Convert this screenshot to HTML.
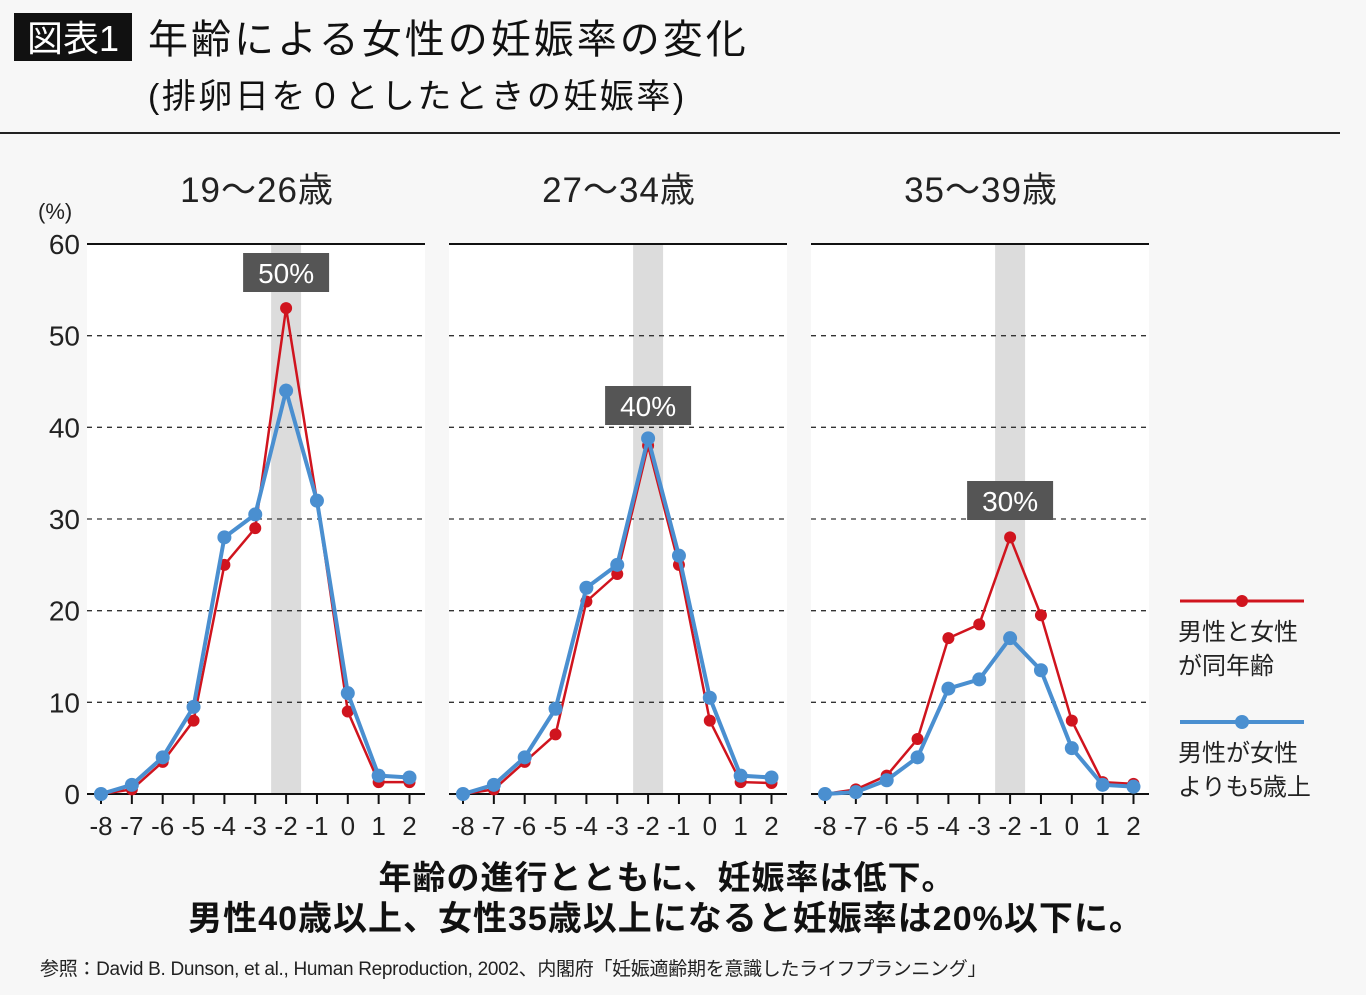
<!DOCTYPE html><html><head><meta charset="utf-8"><style>
body{margin:0;background:#f7f7f7;}
svg{display:block;font-family:"Liberation Sans","Noto Sans CJK JP",sans-serif;}
</style></head><body>
<svg id="s" width="1366" height="995" xmlns="http://www.w3.org/2000/svg">
<rect width="1366" height="995" fill="#f7f7f7"/>
<rect x="14" y="13" width="118" height="48" fill="#111"/>
<text x="73" y="51" font-size="36" fill="#fff" text-anchor="middle">図表1</text>
<text x="148" y="53" font-size="40" letter-spacing="3" fill="#111">年齢による女性の妊娠率の変化</text>
<text x="148" y="108" font-size="34" letter-spacing="2.5" fill="#111">(排卵日を０としたときの妊娠率)</text>
<rect x="0" y="132" width="1340" height="2" fill="#222"/>
<text x="38" y="219" font-size="22" fill="#222">(%)</text>
<g id="g"></g>
<line x1="1180" y1="601" x2="1304" y2="601" stroke="#d0141e" stroke-width="3"/>
<circle cx="1242" cy="601" r="6" fill="#d0141e"/>
<text x="1178" y="640" font-size="24" fill="#222">男性と女性</text>
<text x="1178" y="674" font-size="24" fill="#222">が同年齢</text>
<line x1="1180" y1="722" x2="1304" y2="722" stroke="#4a8fd0" stroke-width="4"/>
<circle cx="1242" cy="722" r="7" fill="#4a8fd0"/>
<text x="1178" y="761" font-size="24" fill="#222">男性が女性</text>
<text x="1178" y="795" font-size="24" fill="#222">よりも5歳上</text>
<text x="667" y="889" font-size="33" letter-spacing="1" font-weight="bold" fill="#111" text-anchor="middle">年齢の進行とともに、妊娠率は低下。</text>
<text x="666" y="930" font-size="34" letter-spacing="1" font-weight="bold" fill="#111" text-anchor="middle">男性40歳以上、女性35歳以上になると妊娠率は20%以下に。</text>
<text x="40" y="975" font-size="19" letter-spacing="-0.3" fill="#222">参照：David B. Dunson, et al., Human Reproduction, 2002、内閣府「妊娠適齢期を意識したライフプランニング」</text>
</svg>
<script>
var g=document.getElementById('g'),h='';
var P=[{x0:87,t:'19～26歳',lab:'50%',ly:253,
r:[0,0.5,3.5,8,25,29,53,32,9,1.3,1.3],b:[0,1,4,9.5,28,30.5,44,32,11,2,1.8]},
{x0:449,t:'27～34歳',lab:'40%',ly:386,
r:[0,0.5,3.5,6.5,21,24,38,25,8,1.3,1.2],b:[0,1,4,9.3,22.5,25,38.8,26,10.5,2,1.8]},
{x0:811,t:'35～39歳',lab:'30%',ly:481,
r:[0,0.5,2,6,17,18.5,28,19.5,8,1.3,1.1],b:[0,0.2,1.5,4,11.5,12.5,17,13.5,5,1,0.8]}];
function Y(v){return 794-v*550/60;}
P.forEach(function(p,i){
 var x0=p.x0,w=338;
 h+='<rect x="'+x0+'" y="244" width="'+w+'" height="550" fill="#fff"/>';
 var X=function(k){return x0+14+k*30.85;};
 h+='<rect x="'+(X(6)-15)+'" y="244" width="30" height="550" fill="#dcdcdc"/>';
 for(var v=10;v<60;v+=10)h+='<line x1="'+x0+'" x2="'+(x0+w)+'" y1="'+Y(v)+'" y2="'+Y(v)+'" stroke="#333" stroke-width="1.3" stroke-dasharray="5,5"/>';
 h+='<line x1="'+x0+'" x2="'+(x0+w)+'" y1="244" y2="244" stroke="#111" stroke-width="2"/>';
 h+='<line x1="'+x0+'" x2="'+(x0+w)+'" y1="794" y2="794" stroke="#111" stroke-width="2"/>';
 var lb=['-8','-7','-6','-5','-4','-3','-2','-1','0','1','2'];
 for(var k=0;k<11;k++){h+='<line x1="'+X(k)+'" x2="'+X(k)+'" y1="794" y2="804" stroke="#111" stroke-width="2"/>';
  h+='<text x="'+X(k)+'" y="835" font-size="26" fill="#222" text-anchor="middle">'+lb[k]+'</text>';}
 h+='<text x="'+(x0+w/2+1)+'" y="202" font-size="35" letter-spacing="1" fill="#222" text-anchor="middle">'+p.t+'</text>';
 h+='<rect x="'+(X(6)-43)+'" y="'+p.ly+'" width="86" height="39" fill="#555"/>';
 h+='<text x="'+X(6)+'" y="'+(p.ly+30)+'" font-size="28" fill="#fff" text-anchor="middle">'+p.lab+'</text>';
 [[p.r,'#d0141e',2.5,6],[p.b,'#4a8fd0',4,7]].forEach(function(s){
  var pts=s[0].map(function(v,k){return X(k)+','+Y(v);}).join(' ');
  h+='<polyline points="'+pts+'" fill="none" stroke="'+s[1]+'" stroke-width="'+s[2]+'"/>';
  s[0].forEach(function(v,k){h+='<circle cx="'+X(k)+'" cy="'+Y(v)+'" r="'+s[3]+'" fill="'+s[1]+'"/>';});
 });
});
for(var v=0;v<=60;v+=10)h+='<text x="80" y="'+(Y(v)+10)+'" font-size="28" fill="#222" text-anchor="end">'+v+'</text>';
g.innerHTML=h;
</script>
</body></html>
